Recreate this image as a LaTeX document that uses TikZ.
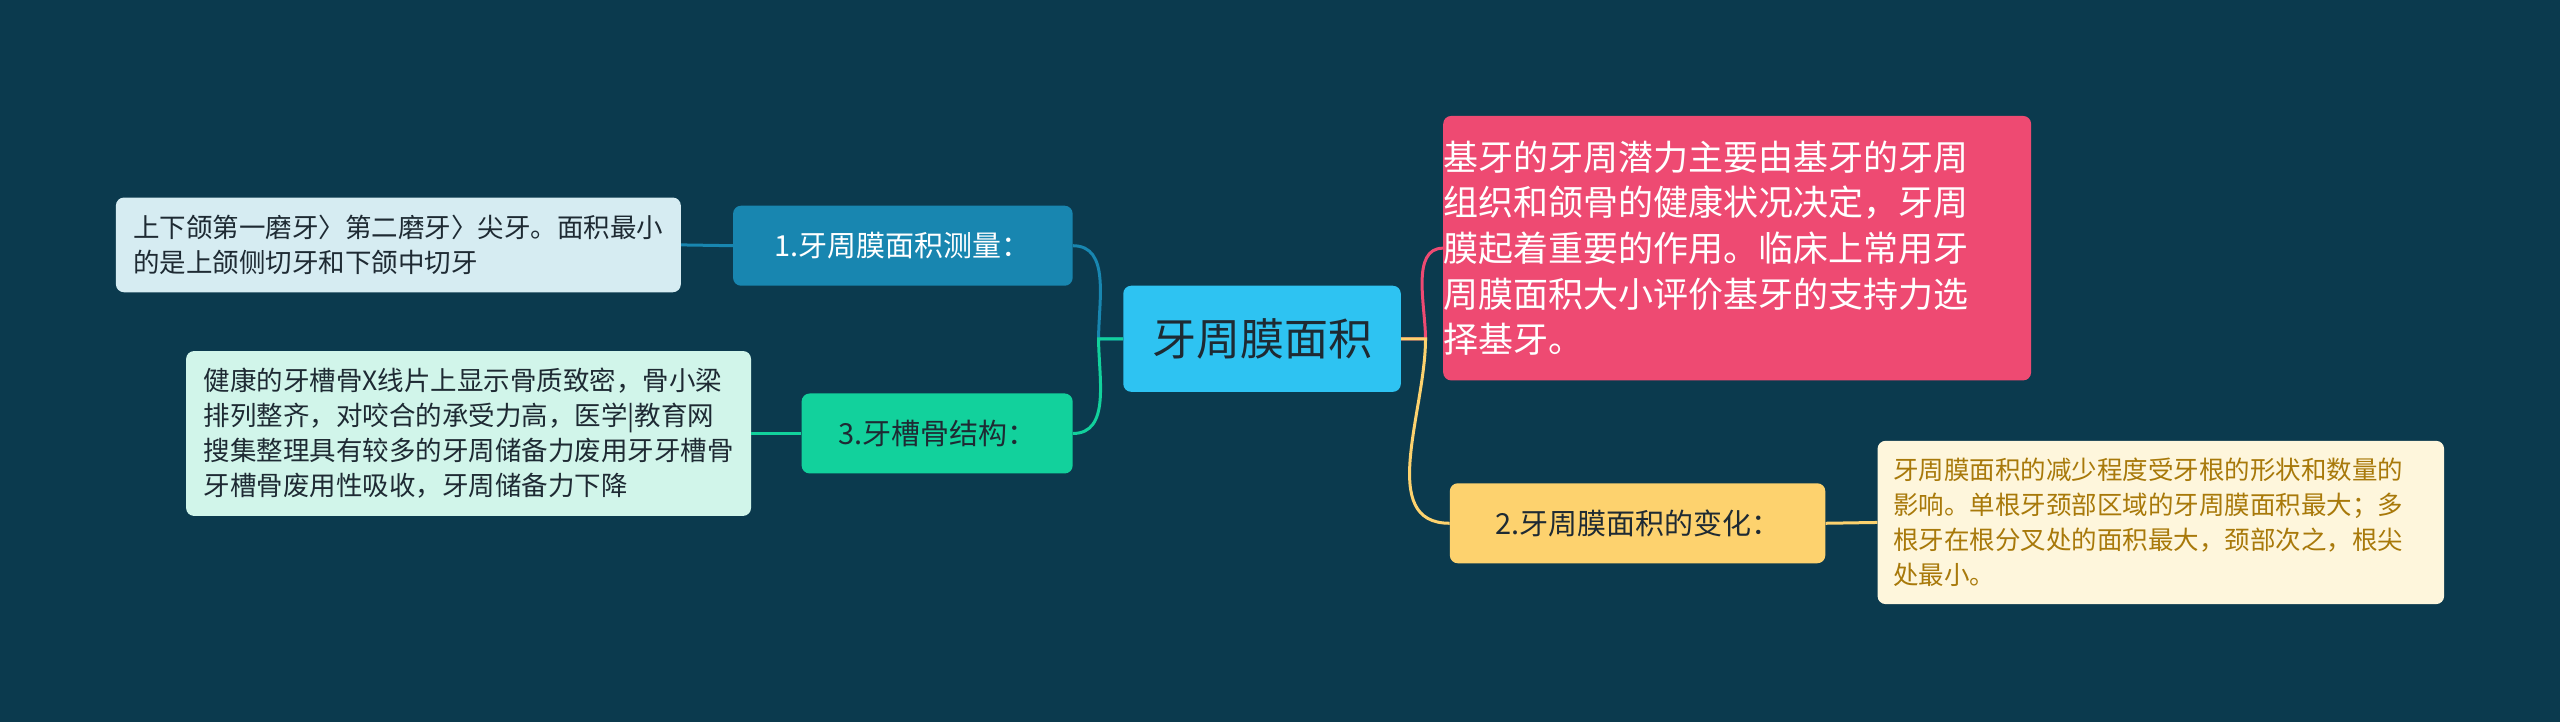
\documentclass[tikz,border=0pt]{standalone}
\usepackage{fontspec}
\setmainfont{Noto Sans CJK SC}
\definecolor{bg}{HTML}{0B3A4E}
\definecolor{cen}{HTML}{2EC3F2}
\definecolor{pink}{HTML}{EE4A72}
\definecolor{yel}{HTML}{FDD26E}
\definecolor{yleaf}{HTML}{FEF6DC}
\definecolor{ytext}{HTML}{A8790A}
\definecolor{blu}{HTML}{1886B0}
\definecolor{bleaf}{HTML}{D6ECF2}
\definecolor{grn}{HTML}{12D19C}
\definecolor{gleaf}{HTML}{D1F5EA}
\definecolor{dk}{HTML}{1E2A33}
\begin{document}
\begin{tikzpicture}[x=1.633pt,y=-1.633pt,
 box/.style={rounded corners=8pt,inner sep=0pt,align=left},
 con/.style={line width=3pt}]
\useasboundingbox[fill=bg] (0,0) rectangle (1568,442);
\node[box,fill=cen,minimum width=170*1.633pt,minimum height=65*1.633pt,text=dk,font=\fontsize{44}{50}\selectfont,align=center] (c) at (773,207.5) {牙周膜面积};
\node[box,fill=pink,minimum width=352*1.633pt,minimum height=162*1.633pt,text=white,font=\fontsize{35}{45.7}\selectfont] (p) at (1064,152) {基牙的牙周潜力主要由基牙的牙周\\组织和颌骨的健康状况决定，牙周\\膜起着重要的作用。临床上常用牙\\周膜面积大小评价基牙的支持力选\\择基牙。\hspace*{12.8em}};
\node[box,fill=yel,minimum width=230*1.633pt,minimum height=49*1.633pt,text=dk,font=\fontsize{29}{34}\selectfont,align=center] (y) at (1003,320.5) {2.牙周膜面积的变化：};
\node[box,fill=yleaf,minimum width=347*1.633pt,minimum height=100*1.633pt,text=ytext,font=\fontsize{25.5}{35}\selectfont] (yl) at (1323.5,320) {牙周膜面积的减少程度受牙根的形状和数量的\\影响。单根牙颈部区域的牙周膜面积最大；多\\根牙在根分叉处的面积最大，颈部次之，根尖\\处最小。\hspace*{17em}};
\node[box,fill=blu,minimum width=208*1.633pt,minimum height=49*1.633pt,text=white,font=\fontsize{29}{34}\selectfont,align=center] (b) at (553,150.5) {1.牙周膜面积测量：};
\node[box,fill=bleaf,minimum width=346*1.633pt,minimum height=58*1.633pt,text=dk,font=\fontsize{26.5}{35}\selectfont] (bl) at (244,150) {上下颌第一磨牙〉第二磨牙〉尖牙。面积最小\\的是上颌侧切牙和下颌中切牙\hspace*{6em}};
\node[box,fill=grn,minimum width=166*1.633pt,minimum height=49*1.633pt,text=dk,font=\fontsize{29}{34}\selectfont,align=center] (g) at (574,265.5) {3.牙槽骨结构：};
\node[box,fill=gleaf,minimum width=346*1.633pt,minimum height=101*1.633pt,text=dk,font=\fontsize{26.5}{35}\selectfont] (gl) at (287,265.5) {健康的牙槽骨X线片上显示骨质致密，骨小梁\\排列整齐，对咬合的承受力高，医学|教育网\\搜集整理具有较多的牙周储备力废用牙牙槽骨\\牙槽骨废用性吸收，牙周储备力下降\hspace*{3.5em}};
\draw[con,pink] (c.east) -- ++(15,0) to[out=90,in=180,looseness=0.9] (p.west);
\draw[con,yel] (c.east) -- ++(15,0) to[out=-90,in=180] (y.west);
\draw[con,blu] (c.west) -- ++(-15,0) to[out=90,in=0] (b.east);
\draw[con,grn] (c.west) -- ++(-15,0) to[out=-90,in=0] (g.east);
\draw[con,yel] (y.east) -- (yl.west);
\draw[con,blu] (b.west) -- (bl.east);
\draw[con,grn] (g.west) -- (gl.east);
\end{tikzpicture}
\end{document}
